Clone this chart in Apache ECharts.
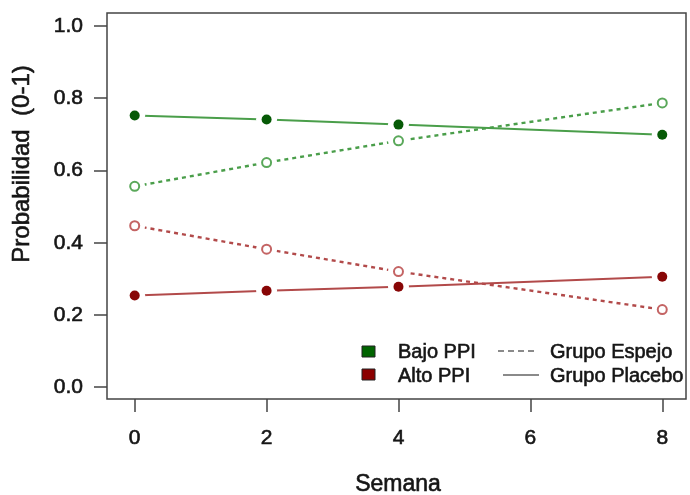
<!DOCTYPE html>
<html>
<head>
<meta charset="utf-8">
<script src="https://cdn.jsdelivr.net/npm/echarts@6/dist/echarts.min.js"></script>
<style>
  html, body { margin: 0; padding: 0; background: #fff; }
  #chart { width: 690px; height: 495px; }
</style>
</head>
<body>
<div id="chart"></div>
<script>
// Weeks of follow-up
const weeks = [0, 2, 4, 8];
// Predicted probability per group and PPI level
const bajoPlacebo = [0.752, 0.741, 0.727, 0.699];
const bajoEspejo  = [0.556, 0.622, 0.682, 0.787];
const altoEspejo  = [0.447, 0.382, 0.320, 0.215];
const altoPlacebo = [0.254, 0.267, 0.278, 0.306];
// Axis tick values
const xTicks = [0, 2, 4, 6, 8];
const yTicks = [0, 0.2, 0.4, 0.6, 0.8, 1.0];

const FONT = 'Liberation Sans, Arial, sans-serif';
const TXT = '#151515';
const HEAVY = 0.6; // extra stroke to give the text a heavier weight

const pairs = vals => weeks.map((w, i) => [w, vals[i]]);

// Line (with a white halo at each point so the line stops short of the marker)
function lineSeries(vals, color, dashed) {
  return {
    type: 'line',
    data: pairs(vals),
    symbol: 'circle',
    symbolSize: 21,
    itemStyle: { color: '#fff', borderWidth: 0, opacity: 1 },
    lineStyle: { color: color, width: dashed ? 2.4 : 2, type: dashed ? [4, 4] : 'solid' },
    silent: true,
    z: 2
  };
}
function markerSeries(vals, color, hollow) {
  return {
    type: 'scatter',
    data: pairs(vals),
    symbol: 'circle',
    symbolSize: hollow ? 9 : 10,
    itemStyle: hollow
      ? { color: '#fff', borderColor: color, borderWidth: 2, opacity: 1 }
      : { color: color, borderWidth: 0, opacity: 1 },
    z: 4
  };
}

const tickStyle = { color: '#444', width: 1.5 };
const labelStyle = { color: TXT, fontFamily: FONT, fontSize: 21,
                     textBorderColor: TXT, textBorderWidth: HEAVY };
const txt = (text, x, y, size, extra) => Object.assign({
  type: 'text', x: x, y: y,
  style: { text: text, fill: TXT, stroke: TXT, lineWidth: HEAVY,
           font: size + 'px ' + FONT, textVerticalAlign: 'middle' }
}, extra || {});

const chart = echarts.init(document.getElementById('chart'), null, { renderer: 'canvas' });
chart.setOption({
  animation: false,
  backgroundColor: '#fff',
  grid: {
    left: 107, right: 4, top: 13, bottom: 96,
    show: true, borderColor: '#444', borderWidth: 1.5, backgroundColor: 'transparent'
  },
  xAxis: {
    type: 'value', min: -0.42, max: 8.36,
    axisLine: { show: false, onZero: false },
    splitLine: { show: false },
    axisTick: { show: true, customValues: xTicks, length: 13, inside: false, lineStyle: tickStyle },
    axisLabel: Object.assign({ customValues: xTicks, margin: 29, formatter: v => String(v) }, labelStyle)
  },
  yAxis: {
    type: 'value', min: -0.0327, max: 1.036,
    axisLine: { show: false, onZero: false },
    splitLine: { show: false },
    axisTick: { show: true, customValues: yTicks, length: 13, inside: false, lineStyle: tickStyle },
    axisLabel: Object.assign({ customValues: yTicks, margin: 24, formatter: v => v.toFixed(1) }, labelStyle)
  },
  series: [
    lineSeries(bajoPlacebo, '#4a9e4a', false),
    lineSeries(bajoEspejo,  '#4a9e4a', true),
    lineSeries(altoEspejo,  '#b24a4a', true),
    lineSeries(altoPlacebo, '#b24a4a', false),
    markerSeries(bajoPlacebo, '#065a06', false),
    markerSeries(bajoEspejo,  '#5aa85a', true),
    markerSeries(altoEspejo,  '#c46464', true),
    markerSeries(altoPlacebo, '#880606', false)
  ],
  graphic: [
    // axis titles
    (() => { const t = txt('Semana', 398, 485, 23); t.style.textAlign = 'center'; return t; })(),
    (() => { const t = txt('Probabilidad  (0-1)', 22, 164, 24, { rotation: Math.PI / 2 });
             t.style.textAlign = 'center'; return t; })(),
    // legend
    { type: 'rect', shape: { x: 362, y: 346, width: 13, height: 11 },
      style: { fill: '#006400', stroke: '#222', lineWidth: 1 } },
    txt('Bajo PPI', 398, 352, 20),
    { type: 'line', shape: { x1: 498, y1: 351, x2: 535, y2: 351 },
      style: { stroke: '#8a8a8a', lineWidth: 2, lineDash: [6, 4] } },
    txt('Grupo Espejo', 550, 352, 20),
    { type: 'rect', shape: { x: 362, y: 369, width: 13, height: 11 },
      style: { fill: '#8b0000', stroke: '#222', lineWidth: 1 } },
    txt('Alto PPI', 398, 376, 20),
    { type: 'line', shape: { x1: 503, y1: 375, x2: 539, y2: 375 },
      style: { stroke: '#8a8a8a', lineWidth: 2 } },
    txt('Grupo Placebo', 550, 376, 20)
  ]
});
</script>
</body>
</html>
